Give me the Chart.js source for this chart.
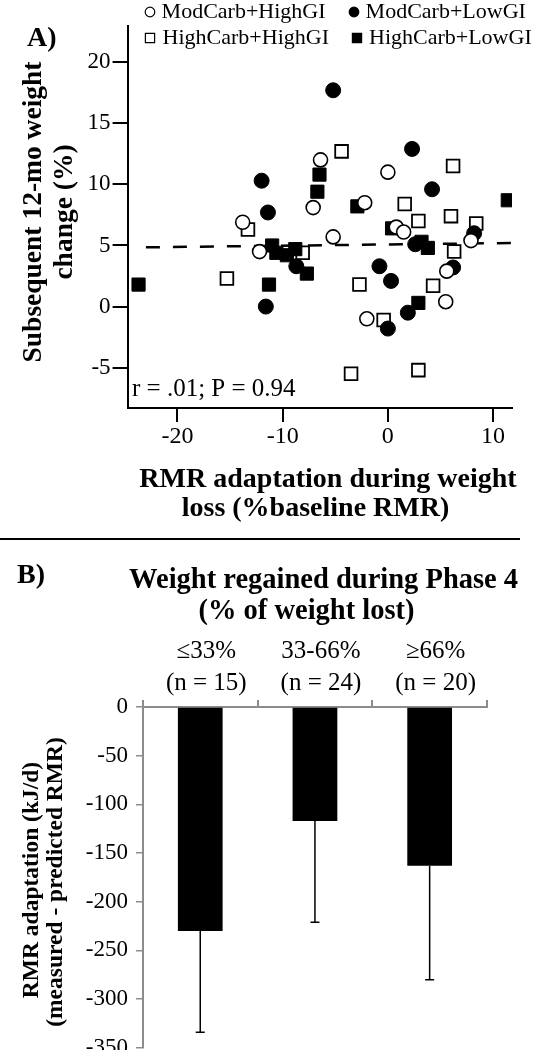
<!DOCTYPE html>
<html><head><meta charset="utf-8">
<script src="https://cdn.jsdelivr.net/npm/chart.js@4.4.1/dist/chart.umd.min.js"></script>
<style>
html,body{margin:0;padding:0;background:#fff;overflow:hidden;width:533px;height:1050px;}
#a{position:absolute;left:0;top:0;}
#b{position:absolute;left:0;top:540px;}
#sep{position:absolute;left:0;top:538px;width:520px;height:2px;background:#000;}
</style></head><body>
<canvas id="a" width="533" height="530"></canvas>
<div id="sep"></div>
<canvas id="b" width="533" height="530"></canvas>
<script>
// ---------- Panel A data ----------
const seriesNames = ['ModCarb+HighGI', 'ModCarb+LowGI', 'HighCarb+HighGI', 'HighCarb+LowGI'];
const mhX = [-13.8, -12.2, -7.1, -6.4, -5.2, -2.2, 0.0, 0.8, 1.5, 7.9, -2.0, 5.6, 5.5];
const mhY = [6.9, 4.5, 8.1, 12.0, 5.7, 8.5, 11.0, 6.5, 6.1, 5.4, -1.0, 2.9, 0.4];
const mlX = [-12.0, -11.4, -11.6, -8.7, -5.2, 2.3, 4.2, 8.2, 2.6, -0.8, 0.3, 6.2, 1.9, 0.0];
const mlY = [10.3, 7.7, 0.0, 3.3, 17.7, 12.9, 9.6, 6.0, 5.1, 3.3, 2.1, 3.2, -0.5, -1.8];
const hhX = [-13.3, -15.3, -8.1, -4.4, 1.6, 2.9, 6.0, 6.2, 8.4, 6.3, -2.7, 4.3, -0.4, -3.5, 2.9];
const hhY = [6.3, 2.3, 4.4, 12.7, 8.4, 7.0, 7.4, 11.5, 6.8, 4.5, 1.8, 1.7, -1.1, -5.5, -5.2];
const hlX = [-23.7, -11.3, -11.0, -10.6, -9.6, -8.8, -7.7, -6.7, -6.5, -2.9, 0.4, 3.2, 3.8, 2.9, 11.4];
const hlY = [1.8, 1.8, 5.0, 4.4, 4.2, 4.7, 2.7, 9.4, 10.8, 8.2, 6.4, 5.3, 4.8, 0.3, 8.7];
const fitX = [-23.0, 11.8];
const fitY = [4.85, 5.2];
const xTicksA = [-20, -10, 0, 10];
const yTicksA = [-5, 0, 5, 10, 15, 20];
const statText = 'r = .01; P = 0.94';
const xTitleA = ['RMR adaptation during weight', 'loss (%baseline RMR)'];
const yTitleA = ['Subsequent 12-mo weight', 'change (%)'];

// ---------- Panel B data ----------
const catLabels = [['≤33%', '(n = 15)'], ['33-66%', '(n = 24)'], ['≥66%', '(n = 20)']];
const barMeans = [-230, -117, -163];
const barErrEnd = [-334, -221, -280];
const yTicksB = [-350, -300, -250, -200, -150, -100, -50, 0];
const titleB = ['Weight regained during Phase 4', '(% of weight lost)'];
const yTitleB = ['RMR adaptation (kJ/d)', '(measured - predicted RMR)'];

const SERIF = "'Liberation Serif','Times New Roman',serif";
Chart.defaults.font.family = SERIF;
Chart.defaults.color = '#000';

const toPts = (xs, ys) => xs.map((x, i) => ({ x: x, y: ys[i] }));

function txt(ctx, s, x, y, size, bold, align, rot) {
  ctx.save();
  ctx.font = (bold ? 'bold ' : '') + size + 'px ' + SERIF;
  ctx.fillStyle = '#000';
  ctx.textAlign = align || 'center';
  ctx.textBaseline = 'middle';
  ctx.translate(x, y);
  if (rot) ctx.rotate(rot);
  ctx.fillText(s, 0, 0);
  ctx.restore();
}

function sym(ctx, style, filled, x, y, r) {
  ctx.save();
  ctx.beginPath();
  if (style === 'circle') ctx.arc(x, y, r, 0, Math.PI * 2);
  else ctx.rect(x - r, y - r, 2 * r, 2 * r);
  ctx.fillStyle = filled ? '#000' : '#fff';
  ctx.fill();
  ctx.lineWidth = 1.2;
  ctx.strokeStyle = '#000';
  ctx.stroke();
  ctx.restore();
}

const textA = {
  id: 'textA',
  afterDraw(chart) {
    const ctx = chart.ctx;
    // panel label
    txt(ctx, 'A)', 27, 39, 28, true, 'left');
    // legend
    const lg = [
      ['circle', false, 150, 12, 4.8, 161.6],
      ['circle', true, 354, 12, 4.8, 365.6],
      ['rect', false, 150, 38, 4.6, 162.6],
      ['rect', true, 357, 38, 4.6, 369]
    ];
    lg.forEach((l, i) => {
      sym(ctx, l[0], l[1], l[2], l[3], l[4]);
      txt(ctx, seriesNames[i], l[5], l[3], 22, false, 'left');
    });
    // axis titles
    txt(ctx, xTitleA[0], 328, 480, 28, true);
    txt(ctx, xTitleA[1], 315.5, 509, 28, true);
    txt(ctx, yTitleA[0], 34, 212, 27.5, true, 'center', -Math.PI / 2);
    txt(ctx, yTitleA[1], 64.6, 212, 27.5, true, 'center', -Math.PI / 2);
    // stat
    txt(ctx, statText, 132, 389, 25, false, 'left');
  }
};

new Chart(document.getElementById('a'), {
  type: 'scatter',
  data: {
    datasets: [
      { label: seriesNames[0], data: toPts(mhX, mhY), pointStyle: 'circle', pointRadius: 7, backgroundColor: '#fff', borderColor: '#000', borderWidth: 1.6, order: 0 },
      { label: seriesNames[1], data: toPts(mlX, mlY), pointStyle: 'circle', pointRadius: 7.5, backgroundColor: '#000', borderColor: '#000', borderWidth: 1, order: 2 },
      { label: seriesNames[2], data: toPts(hhX, hhY), pointStyle: 'rect', pointRadius: 9, backgroundColor: '#fff', borderColor: '#000', borderWidth: 1.8, order: 3 },
      { label: seriesNames[3], data: toPts(hlX, hlY), pointStyle: 'rect', pointRadius: 9.3, backgroundColor: '#000', borderColor: '#000', borderWidth: 1, order: 1 },
      { type: 'line', label: 'fit', data: toPts(fitX, fitY), borderColor: '#000', borderWidth: 2.5, borderDash: [14, 13], pointRadius: 0, fill: false, showLine: true, order: 4 }
    ]
  },
  options: {
    responsive: false, animation: false,
    layout: { padding: { top: 25.5, right: 21, left: 0, bottom: 0 } },
    plugins: { legend: { display: false }, tooltip: { enabled: false } },
    scales: {
      x: {
        type: 'linear', min: -24.74, max: 11.8,
        afterBuildTicks: s => { s.ticks = xTicksA.map(v => ({ value: v })); },
        afterFit: s => { s.height = 122; },
        border: { color: '#000', width: 2 },
        grid: { drawOnChartArea: false, drawTicks: true, tickLength: 14, color: '#000', lineWidth: 2 },
        ticks: { font: { size: 24 }, color: '#000', padding: 0, maxRotation: 0, autoSkip: false, callback: v => String(v) }
      },
      y: {
        type: 'linear', min: -8.3, max: 23,
        afterBuildTicks: s => { s.ticks = yTicksA.map(v => ({ value: v })); },
        afterFit: s => { s.width = 127.6; },
        border: { color: '#000', width: 2 },
        grid: { drawOnChartArea: false, drawTicks: true, tickLength: 15, color: '#000', lineWidth: 2 },
        ticks: { font: { size: 23 }, color: '#000', padding: 2, autoSkip: false, callback: v => String(v) }
      }
    }
  },
  plugins: [textA]
});

const textB = {
  id: 'textB',
  afterDatasetsDraw(chart) {
    const ctx = chart.ctx;
    const ys = chart.scales.y;
    const meta = chart.getDatasetMeta(0);
    ctx.save();
    ctx.strokeStyle = '#000';
    ctx.lineWidth = 1.5;
    meta.data.forEach((bar, i) => {
      const x = bar.x;
      const y0 = ys.getPixelForValue(barMeans[i]);
      const y1 = ys.getPixelForValue(barErrEnd[i]);
      ctx.beginPath();
      ctx.moveTo(x, y0); ctx.lineTo(x, y1);
      ctx.moveTo(x - 4.5, y1); ctx.lineTo(x + 4.5, y1);
      ctx.stroke();
    });
    ctx.restore();
  },
  afterDraw(chart) {
    const ctx = chart.ctx;
    txt(ctx, 'B)', 17, 36, 28, true, 'left');
    txt(ctx, titleB[0], 323.6, 41, 28.5, true);
    txt(ctx, titleB[1], 306.5, 72, 28.5, true);
    txt(ctx, yTitleB[0], 32.3, 340, 23.5, true, 'center', -Math.PI / 2);
    txt(ctx, yTitleB[1], 56, 342, 23.5, true, 'center', -Math.PI / 2);
  }
};

new Chart(document.getElementById('b'), {
  type: 'bar',
  data: {
    labels: catLabels,
    datasets: [{ data: barMeans, backgroundColor: '#000', borderWidth: 0, barPercentage: 0.39, categoryPercentage: 1 }]
  },
  options: {
    responsive: false, animation: false,
    layout: { padding: { left: 0, right: 46, top: 0, bottom: 22.2 } },
    plugins: { legend: { display: false }, tooltip: { enabled: false } },
    scales: {
      x: {
        position: 'top',
        afterFit: s => { s.height = 167; },
        border: { color: '#8c8c8c', width: 2 },
        grid: { drawOnChartArea: false, drawTicks: true, tickLength: 7, color: '#8c8c8c', lineWidth: 2 },
        ticks: { font: { size: 25, lineHeight: 1.28 }, color: '#000', padding: 1, labelOffset: 6, maxRotation: 0, autoSkip: false }
      },
      y: {
        min: -350, max: 0,
        afterBuildTicks: s => { s.ticks = yTicksB.map(v => ({ value: v })); },
        afterFit: s => { s.width = 142.9; },
        border: { color: '#8c8c8c', width: 2 },
        grid: { drawOnChartArea: false, drawTicks: true, tickLength: 7, color: '#8c8c8c', lineWidth: 1.5 },
        ticks: { font: { size: 23 }, color: '#000', padding: 8, autoSkip: false, callback: v => String(v) }
      }
    }
  },
  plugins: [textB]
});
</script>
</body></html>
